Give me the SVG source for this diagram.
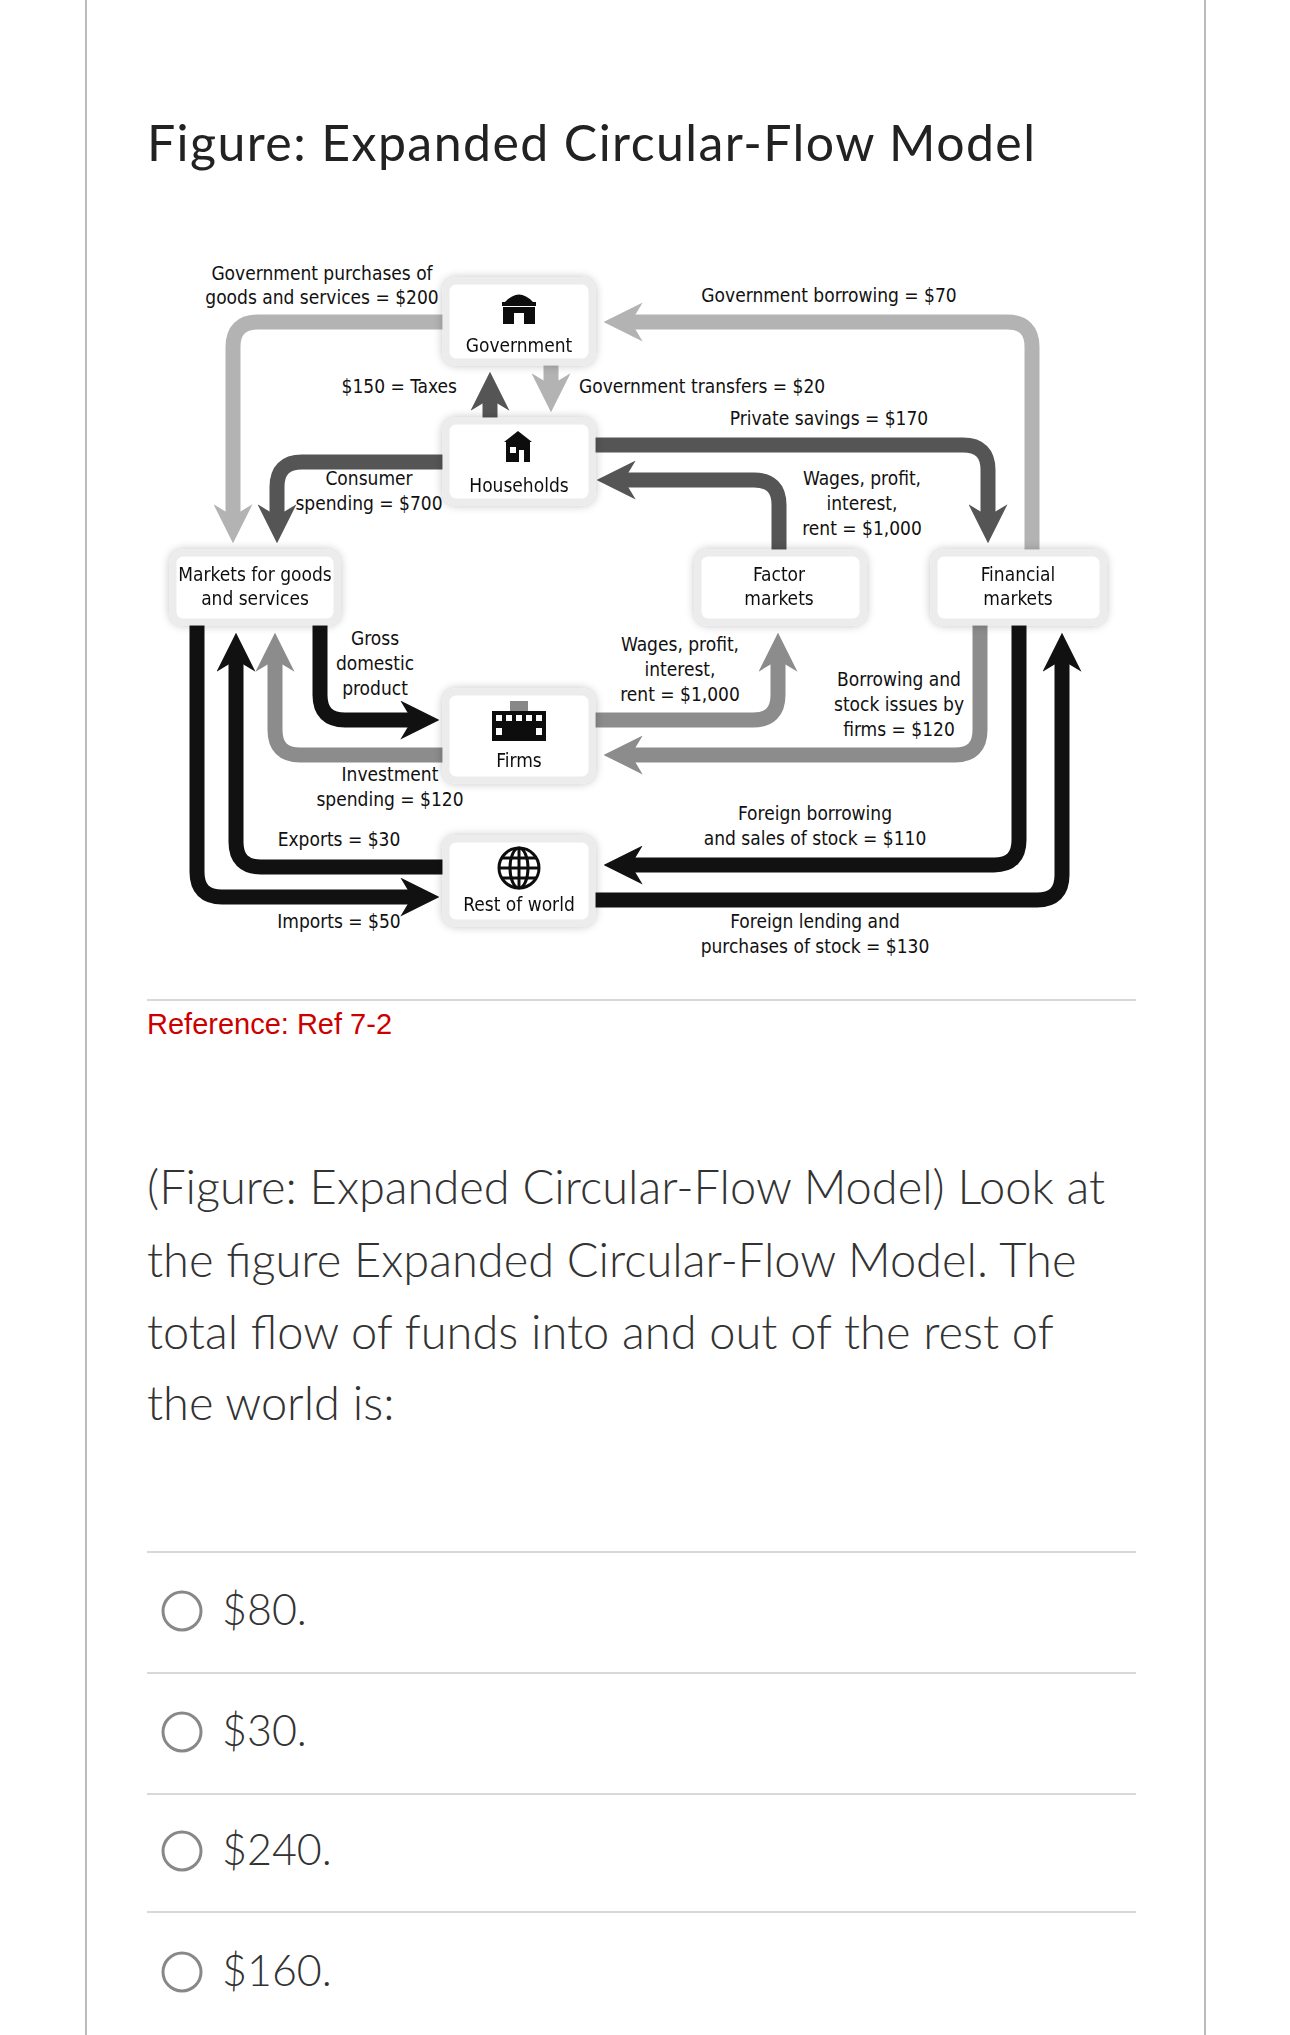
<svg xmlns="http://www.w3.org/2000/svg" width="1290" height="2035" viewBox="0 0 1290 2035">
<style>
.d{font-family:"DejaVu Sans Condensed","DejaVu Sans","Liberation Sans",sans-serif;font-stretch:condensed;font-size:19px;fill:#111;text-anchor:middle}
.box{fill:#fff;stroke:#ececec;stroke-width:7}
.c{fill:none;stroke-width:15}
.lt{stroke:#b3b3b3}.md{stroke:#8c8c8c}.dk{stroke:#555}.bk{stroke:#111}
.q{font-family:Lato,"Open Sans",sans-serif;font-weight:300;fill:#333}
.sep{stroke:#d8d8d8;stroke-width:2}
.opt{fill:#fff;stroke:#888;stroke-width:3}
</style>
<defs>
<filter id="sh" x="-20%" y="-20%" width="140%" height="140%"><feGaussianBlur in="SourceAlpha" stdDeviation="5"/><feComponentTransfer><feFuncA type="linear" slope="0.25"/></feComponentTransfer><feMerge><feMergeNode/><feMergeNode in="SourceGraphic"/></feMerge></filter>
<marker id="mlt" viewBox="0 0 10 10" refX="3" refY="5" markerWidth="2.6" markerHeight="2.6" orient="auto" markerUnits="strokeWidth"><path d="M0,0 L10,5 L0,10 L3,5z" fill="#b3b3b3"/></marker>
<marker id="mmd" viewBox="0 0 10 10" refX="3" refY="5" markerWidth="2.6" markerHeight="2.6" orient="auto" markerUnits="strokeWidth"><path d="M0,0 L10,5 L0,10 L3,5z" fill="#8c8c8c"/></marker>
<marker id="mdk" viewBox="0 0 10 10" refX="3" refY="5" markerWidth="2.6" markerHeight="2.6" orient="auto" markerUnits="strokeWidth"><path d="M0,0 L10,5 L0,10 L3,5z" fill="#555"/></marker>
<marker id="mbk" viewBox="0 0 10 10" refX="3" refY="5" markerWidth="2.6" markerHeight="2.6" orient="auto" markerUnits="strokeWidth"><path d="M0,0 L10,5 L0,10 L3,5z" fill="#111"/></marker>
</defs>
<rect width="1290" height="2035" fill="#fff"/>
<line x1="86" y1="0" x2="86" y2="2035" stroke="#bbb" stroke-width="2"/>
<line x1="1205" y1="0" x2="1205" y2="2035" stroke="#bbb" stroke-width="2"/>
<text x="147" y="161" font-family="Lato,'Open Sans',sans-serif" font-size="50" fill="#222" textLength="888" lengthAdjust="spacing">Figure: Expanded Circular-Flow Model</text>

<g id="connectors">
<path class="c lt" d="M445,322 H258 Q233,322 233,347 V516" marker-end="url(#mlt)"/>
<path class="c dk" d="M445,462 H302 Q277,462 277,487 V516" marker-end="url(#mdk)"/>
<path class="c dk" d="M490,420 V399" marker-end="url(#mdk)"/>
<path class="c lt" d="M551,363 V385" marker-end="url(#mlt)"/>
<path class="c lt" d="M1032,552 V347 Q1032,322 1007,322 H631" marker-end="url(#mlt)"/>
<path class="c dk" d="M593,445 H963 Q988,445 988,470 V516" marker-end="url(#mdk)"/>
<path class="c dk" d="M779,552 V505 Q779,480 754,480 H624" marker-end="url(#mdk)"/>
<path class="c bk" d="M320,620 V695 Q320,720 345,720 H412" marker-end="url(#mbk)"/>
<path class="c md" d="M445,755 H300 Q275,755 275,730 V660" marker-end="url(#mmd)"/>
<path class="c bk" d="M445,867 H261 Q236,867 236,842 V660" marker-end="url(#mbk)"/>
<path class="c bk" d="M197,620 V872 Q197,897 222,897 H412" marker-end="url(#mbk)"/>
<path class="c md" d="M593,720 H753 Q778,720 778,695 V660" marker-end="url(#mmd)"/>
<path class="c md" d="M980,620 V730 Q980,755 955,755 H631" marker-end="url(#mmd)"/>
<path class="c bk" d="M1019,620 V840 Q1019,865 994,865 H631" marker-end="url(#mbk)"/>
<path class="c bk" d="M593,900 H1037 Q1062,900 1062,875 V660" marker-end="url(#mbk)"/>
</g>

<g id="government" filter="url(#sh)">
<rect class="box" x="446" y="281" width="146" height="81" rx="10"/>
<path d="M505,302 Q519,287 533,302 Z M502,302 H536 V306 H502 Z M503,307 H535 V324 H524 V313 H514 V324 H503 Z" fill="#111"/>
<text class="d" x="519" y="352">Government</text>
</g>
<g id="households" filter="url(#sh)">
<rect class="box" x="446" y="421" width="146" height="81" rx="10"/>
<path d="M504,442 L518,431 L532,442 Z M506,442 H530 V462 H524 V450 H519 V462 H506 Z" fill="#111"/>
<rect x="510" y="447" width="6" height="6" fill="#fff"/>
<text class="d" x="519" y="492">Households</text>
</g>
<g id="markets" filter="url(#sh)">
<rect class="box" x="173" y="553" width="164" height="69" rx="10"/>
<text class="d" x="255" y="581">Markets for goods</text>
<text class="d" x="255" y="605">and services</text>
</g>
<g id="factor" filter="url(#sh)">
<rect class="box" x="698" y="553" width="165" height="69" rx="10"/>
<text class="d" x="779" y="581">Factor</text>
<text class="d" x="779" y="605">markets</text>
</g>
<g id="financial" filter="url(#sh)">
<rect class="box" x="934" y="553" width="169" height="69" rx="10"/>
<text class="d" x="1018" y="581">Financial</text>
<text class="d" x="1018" y="605">markets</text>
</g>
<g id="firms" filter="url(#sh)">
<rect class="box" x="446" y="692" width="146" height="88" rx="10"/>
<rect x="510" y="701" width="18" height="10" fill="#888"/>
<rect x="492" y="711" width="54" height="30" fill="#111"/>
<g fill="#fff"><rect x="496" y="715" width="6" height="6"/><rect x="506" y="715" width="6" height="6"/><rect x="516" y="715" width="6" height="6"/><rect x="526" y="715" width="6" height="6"/><rect x="536" y="715" width="6" height="6"/><rect x="496" y="728" width="6" height="7"/><rect x="536" y="728" width="6" height="7"/></g>
<text class="d" x="519" y="767">Firms</text>
</g>
<g id="rest-of-world" filter="url(#sh)">
<rect class="box" x="446" y="839" width="146" height="84" rx="10"/>
<g fill="none" stroke="#111" stroke-width="3"><circle cx="519" cy="868" r="20"/><ellipse cx="519" cy="868" rx="9" ry="20"/><line x1="499" y1="868" x2="539" y2="868"/><line x1="502" y1="858" x2="536" y2="858"/><line x1="502" y1="878" x2="536" y2="878"/><line x1="519" y1="848" x2="519" y2="888"/></g>
<text class="d" x="519" y="911">Rest of world</text>
</g>

<g id="labels">
<text class="d" x="322" y="280">Government purchases of</text>
<text class="d" x="322" y="304">goods and services = $200</text>
<text class="d" x="457" y="393" style="text-anchor:end">$150 = Taxes</text>
<text class="d" x="579" y="393" style="text-anchor:start">Government transfers = $20</text>
<text class="d" x="829" y="302">Government borrowing = $70</text>
<text class="d" x="829" y="425">Private savings = $170</text>
<text class="d" x="369" y="485">Consumer</text>
<text class="d" x="369" y="510">spending = $700</text>
<text class="d" x="862" y="485">Wages, profit,</text>
<text class="d" x="862" y="510">interest,</text>
<text class="d" x="862" y="535">rent = $1,000</text>
<text class="d" x="375" y="645">Gross</text>
<text class="d" x="375" y="670">domestic</text>
<text class="d" x="375" y="695">product</text>
<text class="d" x="680" y="651">Wages, profit,</text>
<text class="d" x="680" y="676">interest,</text>
<text class="d" x="680" y="701">rent = $1,000</text>
<text class="d" x="899" y="686">Borrowing and</text>
<text class="d" x="899" y="711">stock issues by</text>
<text class="d" x="899" y="736">firms = $120</text>
<text class="d" x="390" y="781">Investment</text>
<text class="d" x="390" y="806">spending = $120</text>
<text class="d" x="339" y="846">Exports = $30</text>
<text class="d" x="339" y="928">Imports = $50</text>
<text class="d" x="815" y="820">Foreign borrowing</text>
<text class="d" x="815" y="845">and sales of stock = $110</text>
<text class="d" x="815" y="928">Foreign lending and</text>
<text class="d" x="815" y="953">purchases of stock = $130</text>
</g>

<line class="sep" x1="147" y1="1000" x2="1136" y2="1000"/>
<text x="147" y="1034" font-family="'Liberation Sans',Arial,sans-serif" font-size="29" fill="#cc0000">Reference: Ref 7-2</text>

<text class="q" x="147" y="1204" font-size="47">(Figure: Expanded Circular-Flow Model) Look at</text>
<text class="q" x="147" y="1277" font-size="47">the figure Expanded Circular-Flow Model. The</text>
<text class="q" x="147" y="1349" font-size="47">total flow of funds into and out of the rest of</text>
<text class="q" x="147" y="1420" font-size="47">the world is:</text>

<line class="sep" x1="147" y1="1552" x2="1136" y2="1552"/>
<line class="sep" x1="147" y1="1673" x2="1136" y2="1673"/>
<line class="sep" x1="147" y1="1794" x2="1136" y2="1794"/>
<line class="sep" x1="147" y1="1912" x2="1136" y2="1912"/>
<circle class="opt" cx="182" cy="1611" r="19"/>
<circle class="opt" cx="182" cy="1732" r="19"/>
<circle class="opt" cx="182" cy="1851" r="19"/>
<circle class="opt" cx="182" cy="1972" r="19"/>
<text class="q" x="222" y="1625" font-size="43">$80.</text>
<text class="q" x="222" y="1746" font-size="43">$30.</text>
<text class="q" x="222" y="1865" font-size="43">$240.</text>
<text class="q" x="222" y="1986" font-size="43">$160.</text>
</svg>
